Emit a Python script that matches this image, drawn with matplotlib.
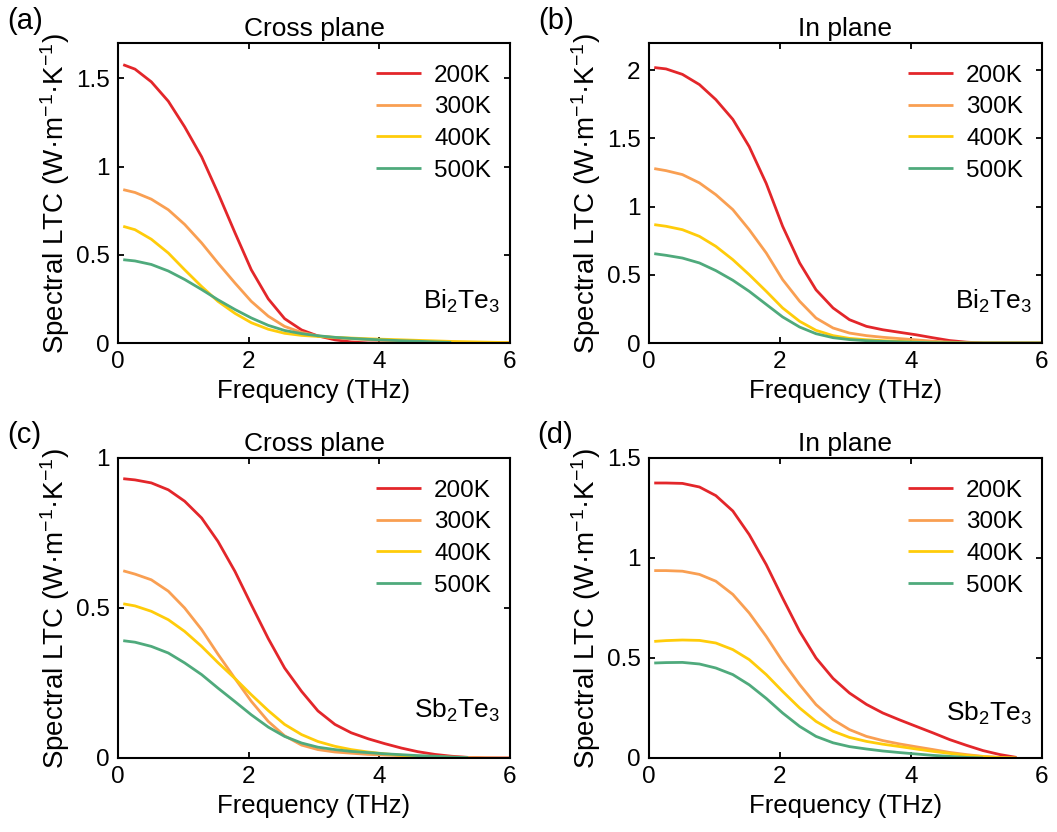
import matplotlib
matplotlib.use("Agg")
import matplotlib.pyplot as plt
from matplotlib.ticker import FuncFormatter

plt.rcParams['font.family'] = ['Liberation Sans', 'DejaVu Sans']
plt.rcParams['mathtext.default'] = 'regular'

# Frequency grid (THz) shared by all curves; shorter series stop early
freq = [0.08, 0.26, 0.51, 0.77, 1.02, 1.28, 1.53, 1.79, 2.04, 2.30, 2.55,
        2.81, 3.06, 3.32, 3.57, 3.83, 4.08, 4.34, 4.59, 4.85, 5.10, 5.36,
        5.61, 5.87, 6.0]

temps = ['200K', '300K', '400K', '500K']
colors = ['#E3262A', '#F99F52', '#FFCC0A', '#4FAA7C']

# (a) Bi2Te3, cross plane
bi_cross_200 = [1.577, 1.552, 1.48, 1.37, 1.225, 1.055, 0.85, 0.625, 0.415,
                0.25, 0.138, 0.074, 0.04, 0.018, 0.006, 0, 0, 0, 0, 0, 0, 0,
                0, 0, 0]
bi_cross_300 = [0.869, 0.853, 0.815, 0.755, 0.672, 0.567, 0.453, 0.34, 0.236,
                0.152, 0.094, 0.06, 0.04, 0.03, 0.024, 0.019, 0.015, 0.011,
                0.008, 0.005, 0.003, 0.001, 0, 0, 0]
bi_cross_400 = [0.661, 0.642, 0.588, 0.51, 0.415, 0.32, 0.236, 0.168, 0.115,
                0.078, 0.055, 0.043, 0.037, 0.032, 0.028, 0.024, 0.021, 0.018,
                0.015, 0.012, 0.009, 0.007, 0.005, 0.003, 0.002]
bi_cross_500 = [0.472, 0.465, 0.445, 0.408, 0.36, 0.303, 0.245, 0.19, 0.142,
                0.1, 0.071, 0.053, 0.041, 0.032, 0.026, 0.021, 0.017, 0.013,
                0.01, 0.006, 0.003]

# (b) Bi2Te3, in plane
bi_in_200 = [2.02, 2.01, 1.97, 1.895, 1.785, 1.64, 1.44, 1.17, 0.856, 0.587,
             0.39, 0.257, 0.171, 0.122, 0.097, 0.078, 0.06, 0.038, 0.018,
             0.006, 0, 0, 0, 0, 0]
bi_in_300 = [1.279, 1.264, 1.235, 1.174, 1.088, 0.978, 0.831, 0.66, 0.465,
             0.306, 0.183, 0.11, 0.073, 0.054, 0.042, 0.032, 0.023, 0.013,
             0.006, 0.002, 0, 0, 0, 0, 0]
bi_in_400 = [0.868, 0.856, 0.831, 0.782, 0.709, 0.611, 0.501, 0.379, 0.257,
             0.159, 0.093, 0.054, 0.034, 0.024, 0.017, 0.012, 0.007, 0.003,
             0.001, 0, 0, 0, 0, 0, 0]
bi_in_500 = [0.655, 0.643, 0.623, 0.587, 0.531, 0.46, 0.379, 0.283, 0.191,
             0.117, 0.068, 0.039, 0.025, 0.017, 0.012, 0.008, 0.005, 0.002,
             0.001, 0, 0, 0, 0, 0, 0]

# (c) Sb2Te3, cross plane
sb_cross_200 = [0.931, 0.927, 0.917, 0.894, 0.856, 0.8, 0.722, 0.622, 0.511,
                0.398, 0.3, 0.222, 0.157, 0.112, 0.084, 0.064, 0.048, 0.033,
                0.021, 0.012, 0.006, 0.002, 0, 0, 0]
sb_cross_300 = [0.624, 0.613, 0.594, 0.556, 0.5, 0.428, 0.346, 0.265, 0.189,
                0.122, 0.074, 0.043, 0.028, 0.02, 0.016, 0.012, 0.01, 0.008,
                0.006, 0.005, 0.003, 0.002, 0.001, 0, 0]
sb_cross_400 = [0.514, 0.507, 0.489, 0.461, 0.422, 0.372, 0.318, 0.265, 0.211,
                0.158, 0.112, 0.078, 0.055, 0.039, 0.028, 0.02, 0.014, 0.009,
                0.004, 0.001]
sb_cross_500 = [0.391, 0.386, 0.372, 0.35, 0.317, 0.278, 0.233, 0.188, 0.144,
                0.103, 0.072, 0.05, 0.036, 0.028, 0.022, 0.018, 0.014, 0.011,
                0.008, 0.006, 0.003, 0.001]

# (d) Sb2Te3, in plane
sb_in_200 = [1.375, 1.375, 1.373, 1.355, 1.312, 1.235, 1.117, 0.967, 0.8,
             0.633, 0.5, 0.398, 0.325, 0.268, 0.225, 0.19, 0.158, 0.125,
             0.092, 0.063, 0.037, 0.017, 0.003]
sb_in_300 = [0.937, 0.937, 0.934, 0.918, 0.884, 0.818, 0.725, 0.608, 0.483,
             0.367, 0.267, 0.192, 0.142, 0.108, 0.087, 0.07, 0.056, 0.042,
             0.028, 0.017, 0.008, 0.003, 0]
sb_in_400 = [0.583, 0.587, 0.59, 0.588, 0.575, 0.542, 0.492, 0.417, 0.333,
             0.25, 0.183, 0.134, 0.103, 0.083, 0.069, 0.057, 0.045, 0.033,
             0.023, 0.013, 0.007, 0.002, 0]
sb_in_500 = [0.475, 0.477, 0.478, 0.47, 0.45, 0.417, 0.366, 0.298, 0.225,
             0.158, 0.108, 0.076, 0.057, 0.045, 0.035, 0.027, 0.02, 0.013,
             0.008, 0.003, 0]

panels = [
    dict(tag='(a)', title='Cross plane', material='Bi$_2$Te$_3$',
         series=[bi_cross_200, bi_cross_300, bi_cross_400, bi_cross_500],
         ymax=1.7, yticks=[0, 0.5, 1, 1.5]),
    dict(tag='(b)', title='In plane', material='Bi$_2$Te$_3$',
         series=[bi_in_200, bi_in_300, bi_in_400, bi_in_500],
         ymax=2.2, yticks=[0, 0.5, 1, 1.5, 2]),
    dict(tag='(c)', title='Cross plane', material='Sb$_2$Te$_3$',
         series=[sb_cross_200, sb_cross_300, sb_cross_400, sb_cross_500],
         ymax=1.0, yticks=[0, 0.5, 1]),
    dict(tag='(d)', title='In plane', material='Sb$_2$Te$_3$',
         series=[sb_in_200, sb_in_300, sb_in_400, sb_in_500],
         ymax=1.5, yticks=[0, 0.5, 1, 1.5]),
]

W, H = 1057, 832
fig = plt.figure(figsize=(W / 100, H / 100), dpi=100)

# axes boxes in pixels: (left, top, right, bottom)
boxes = [(118, 43, 510, 343), (649, 43, 1042, 343),
         (118, 458, 510, 758), (649, 458, 1042, 758)]
tag_pos = [(7, 7), (538, 7), (7, 421), (537, 421)]
mat_y = [0.137, 0.137, 0.16, 0.15]

fmt = FuncFormatter(lambda v, p: f'{v:g}')

for p, box, tp, my in zip(panels, boxes, tag_pos, mat_y):
    l, t, r, b = box
    ax = fig.add_axes([l / W, 1 - b / H, (r - l) / W, (b - t) / H])
    for vals, lab, col in zip(p['series'], temps, colors):
        ax.plot(freq[:len(vals)], vals, color=col, lw=2.0, label=lab,
                solid_capstyle='butt', solid_joinstyle='round')
    ax.set_xlim(0, 6)
    ax.set_ylim(0, p['ymax'])
    ax.set_xticks([0, 2, 4, 6])
    ax.set_yticks(p['yticks'])
    ax.xaxis.set_major_formatter(fmt)
    ax.yaxis.set_major_formatter(fmt)
    ax.tick_params(direction='in', top=True, right=True, length=4.5,
                   width=1.3, labelsize=17.5, pad=6)
    for sp in ax.spines.values():
        sp.set_linewidth(1.5)
    ax.set_title(p['title'], fontsize=19, pad=5)
    ax.set_xlabel('Frequency (THz)', fontsize=18.5, labelpad=4)
    ax.set_ylabel('Spectral LTC (W·m$^{-1}$·K$^{-1}$)', fontsize=20)
    ax.yaxis.set_label_coords(-0.118, 0.5)
    ax.text(0.975, my, p['material'], transform=ax.transAxes, fontsize=19,
            ha='right', va='center')
    ax.legend(loc='upper right', frameon=False, fontsize=17.5,
              handlelength=1.85, handletextpad=0.55, labelspacing=0.4,
              borderaxespad=0.3, bbox_to_anchor=(0.995, 0.985))
    fig.text(tp[0] / W, 1 - tp[1] / H, p['tag'], fontsize=21,
             ha='left', va='top')

fig.savefig('out.png', dpi=100, facecolor='white')
